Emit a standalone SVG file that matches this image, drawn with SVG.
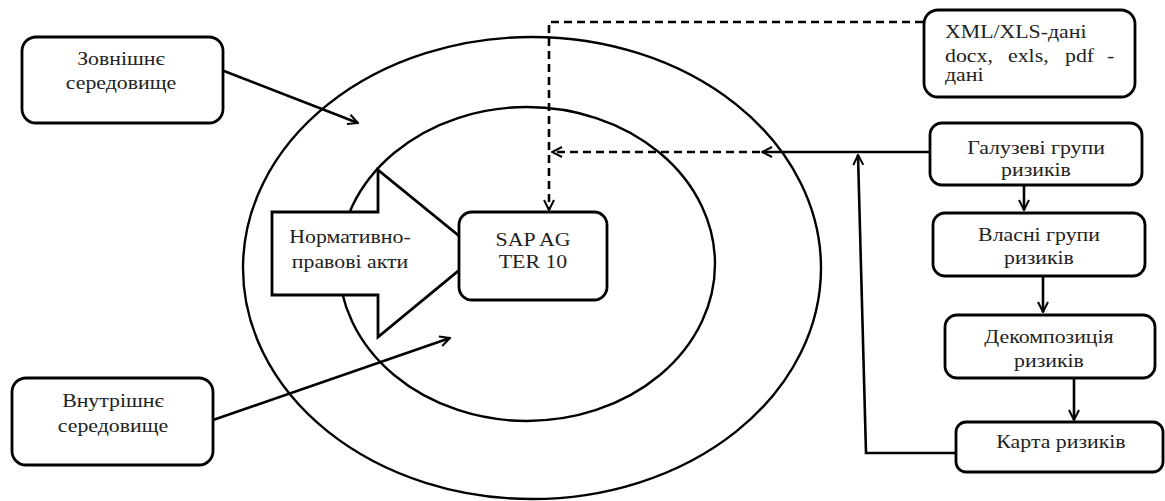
<svg xmlns="http://www.w3.org/2000/svg" width="1165" height="501" viewBox="0 0 1165 501">
<defs>
<style>
.box{fill:#fff;stroke:#000;stroke-width:2.8}
.ring{fill:none;stroke:#000;stroke-width:2.4}
.t{font-family:"Liberation Serif","DejaVu Serif",serif;font-size:18.5px;fill:#222;text-anchor:middle}
.tl{font-family:"Liberation Serif","DejaVu Serif",serif;font-size:18.5px;fill:#222}
.ln{fill:none;stroke:#000;stroke-width:2.6}
.dash{fill:none;stroke:#000;stroke-width:2.6;stroke-dasharray:8 5}
</style>
<marker id="ah" viewBox="0 0 12 12" refX="11" refY="6" markerWidth="12" markerHeight="12" markerUnits="userSpaceOnUse" orient="auto">
<path d="M1,1 L11,6 L1,11" fill="none" stroke="#000" stroke-width="2"/>
</marker>
</defs>
<rect width="1165" height="501" fill="#fff"/>
<g id="rings">
<ellipse class="ring" cx="532" cy="268" rx="289" ry="231"/>
<ellipse class="ring" cx="527" cy="264" rx="188" ry="157"/>
</g>
<g id="connectors">
<polyline class="dash" points="923,22 549,22 549,210" marker-end="url(#ah)"/>
<line class="dash" x1="760" y1="152" x2="552" y2="152" marker-end="url(#ah)"/>
<line class="ln" x1="930" y1="152" x2="762" y2="152" marker-end="url(#ah)"/>
<polyline class="ln" points="956,453 866,453 858,155" marker-end="url(#ah)"/>
<line class="ln" x1="1024" y1="185" x2="1024" y2="210" marker-end="url(#ah)"/>
<line class="ln" x1="1043" y1="276" x2="1043" y2="312" marker-end="url(#ah)"/>
<line class="ln" x1="1074" y1="378" x2="1074" y2="420" marker-end="url(#ah)"/>
<line class="ln" x1="224" y1="71" x2="358" y2="123" marker-end="url(#ah)"/>
<line class="ln" x1="213" y1="420" x2="450" y2="338" marker-end="url(#ah)"/>
</g>
<g id="n-zovn">
<rect class="box" x="22" y="37" width="201" height="86" rx="14"/>
<text class="t" transform="translate(121,65) scale(1.18,1)">Зовнішнє</text>
<text class="t" transform="translate(121,89) scale(1.18,1)">середовище</text>
</g>
<g id="n-vnutr">
<rect class="box" x="12" y="378" width="201" height="87" rx="14"/>
<text class="t" transform="translate(113,407) scale(1.18,1)">Внутрішнє</text>
<text class="t" transform="translate(113,432) scale(1.18,1)">середовище</text>
</g>
<g id="n-norm">
<polygon class="box" points="272,212 378,212 378,170 480,253 378,337 378,295 272,295"/>
<text class="t" transform="translate(350,243) scale(1.18,1)">Нормативно-</text>
<text class="t" transform="translate(350,268) scale(1.18,1)">правові акти</text>
</g>
<g id="n-sap">
<rect class="box" x="459" y="212" width="148" height="88" rx="13"/>
<text class="t" transform="translate(533,246) scale(1.18,1)">SAP AG</text>
<text class="t" transform="translate(533,268) scale(1.18,1)">TER 10</text>
</g>
<g id="n-xml">
<rect class="box" x="924" y="10" width="211" height="87" rx="14"/>
<text class="tl" transform="translate(945,38) scale(1.18,1)">XML/XLS-дані</text>
<text class="tl" transform="translate(945,62) scale(1.18,1)"><tspan x="0">docx,</tspan><tspan x="53.4">exls,</tspan><tspan x="101.7">pdf</tspan><tspan x="137.3">-</tspan></text>
<text class="tl" transform="translate(945,81) scale(1.18,1)">дані</text>
</g>
<g id="n-galuz">
<rect class="box" x="930" y="123" width="212" height="62" rx="12"/>
<text class="t" transform="translate(1036,154) scale(1.18,1)">Галузеві групи</text>
<text class="t" transform="translate(1036,176) scale(1.18,1)">ризиків</text>
</g>
<g id="n-vlasni">
<rect class="box" x="933" y="213" width="212" height="63" rx="12"/>
<text class="t" transform="translate(1039,241) scale(1.18,1)">Власні групи</text>
<text class="t" transform="translate(1039,264) scale(1.18,1)">ризиків</text>
</g>
<g id="n-dekomp">
<rect class="box" x="945" y="315" width="210" height="63" rx="12"/>
<text class="t" transform="translate(1049,343) scale(1.18,1)">Декомпозиція</text>
<text class="t" transform="translate(1049,367) scale(1.18,1)">ризиків</text>
</g>
<g id="n-karta">
<rect class="box" x="956" y="422" width="207" height="50" rx="10"/>
<text class="t" transform="translate(1061,448) scale(1.18,1)">Карта ризиків</text>
</g>
</svg>
